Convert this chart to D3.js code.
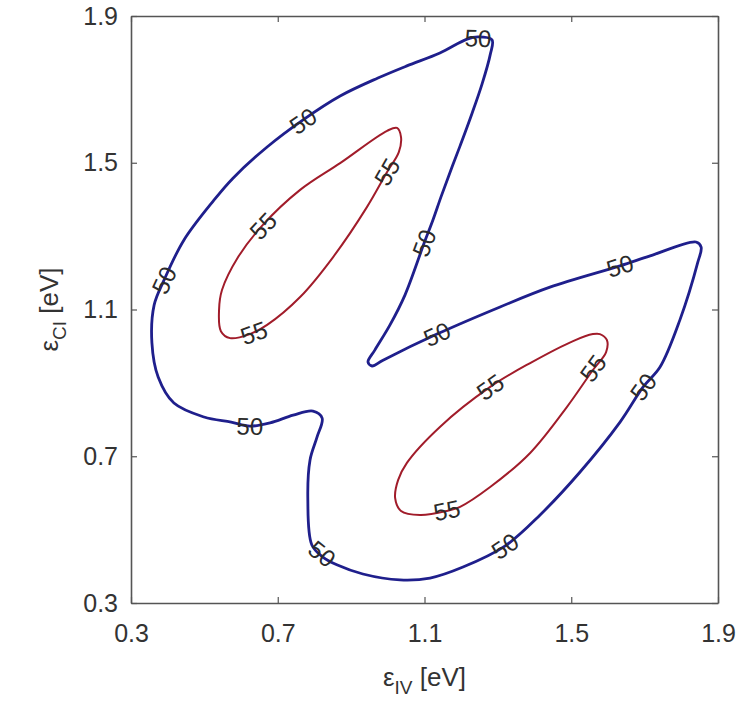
<!DOCTYPE html>
<html>
<head>
<meta charset="utf-8">
<script src="https://cdn.jsdelivr.net/npm/d3@7"></script>
<style>
  body { margin: 0; background: #fff; }
  #chart { width: 743px; height: 703px; }
  text { font-family: "Liberation Sans", Arial, sans-serif; }
</style>
</head>
<body>
<div id="chart"></div>
<script>
// tick values (eV)
var xTicks = [0.3, 0.7, 1.1, 1.5, 1.9]
var yTicks = [0.3, 0.7, 1.1, 1.5, 1.9]

// contour levels
var levelOuter = 50
var levelInner = 55

// iso-line 50, traced as [eps_IV, eps_CI]
var contour50 = [
  [1.284, 1.835], [1.246, 1.843], [1.216, 1.837], [1.142, 1.799], [1.052, 1.764],
  [0.973, 1.731], [0.870, 1.682], [0.769, 1.617], [0.671, 1.543], [0.578, 1.458],
  [0.526, 1.398], [0.444, 1.289], [0.390, 1.180], [0.363, 1.112], [0.357, 1.009],
  [0.374, 0.916], [0.417, 0.845], [0.499, 0.807], [0.573, 0.793], [0.624, 0.782],
  [0.679, 0.791], [0.742, 0.812], [0.796, 0.823], [0.821, 0.804], [0.807, 0.752],
  [0.788, 0.690], [0.782, 0.581], [0.793, 0.458], [0.823, 0.425], [0.861, 0.404],
  [0.932, 0.379], [1.033, 0.363], [1.115, 0.368], [1.205, 0.398], [1.319, 0.455],
  [1.415, 0.540], [1.524, 0.657], [1.633, 0.793], [1.696, 0.889], [1.742, 0.943],
  [1.796, 1.071], [1.845, 1.229], [1.854, 1.270], [1.840, 1.284], [1.715, 1.246],
  [1.633, 1.219], [1.442, 1.161], [1.306, 1.107], [1.134, 1.033], [0.987, 0.962],
  [0.957, 0.946], [0.946, 0.957], [0.965, 0.990], [1.006, 1.058], [1.047, 1.140],
  [1.099, 1.281], [1.123, 1.344], [1.145, 1.407], [1.170, 1.475], [1.197, 1.546],
  [1.229, 1.633], [1.257, 1.715], [1.279, 1.794]
]

// iso-line 55, upper-left island
var contour55a = [
  [1.025, 1.595], [1.036, 1.570], [1.030, 1.529], [0.998, 1.475], [0.943, 1.379],
  [0.851, 1.243], [0.761, 1.134], [0.671, 1.058], [0.624, 1.033], [0.570, 1.022],
  [0.545, 1.041], [0.540, 1.099], [0.548, 1.153], [0.592, 1.243], [0.657, 1.328],
  [0.761, 1.426], [0.870, 1.499], [0.998, 1.587]
]

// iso-line 55, lower-right island
var contour55b = [
  [1.578, 1.033], [1.597, 1.017], [1.595, 0.984], [1.559, 0.935], [1.488, 0.834],
  [1.388, 0.709], [1.279, 0.616], [1.197, 0.562], [1.161, 0.551], [1.088, 0.540],
  [1.036, 0.551], [1.020, 0.586], [1.028, 0.635], [1.052, 0.682], [1.142, 0.780],
  [1.279, 0.889], [1.388, 0.954], [1.505, 1.014], [1.559, 1.033]
]

// where the level labels sit
var labels50 = [
  [1.246, 1.840], [0.769, 1.614], [0.390, 1.180], [0.624, 0.782], [0.821, 0.434],
  [1.319, 0.455], [1.696, 0.889], [1.633, 1.219], [1.134, 1.033], [1.099, 1.281]
]
var labels55a = [[0.998, 1.475], [0.660, 1.328], [0.635, 1.036]]
var labels55b = [[1.279, 0.889], [1.559, 0.940], [1.161, 0.553]]

var margin = { top: 16, right: 25, bottom: 100, left: 131 }
var width = 743 - margin.left - margin.right
var height = 703 - margin.top - margin.bottom

var svg = d3.select("#chart")
  .append("svg")
  .attr("width", 743)
  .attr("height", 703)

var g = svg.append("g")
  .attr("transform", "translate(" + margin.left + "," + margin.top + ")")

var x = d3.scaleLinear().domain([0.3, 1.9]).range([0, width])
var y = d3.scaleLinear().domain([0.3, 1.9]).range([height, 0])

var line = d3.line()
  .x(function(d) { return x(d[0]) })
  .y(function(d) { return y(d[1]) })
  .curve(d3.curveCatmullRomClosed.alpha(0.5))

function drawContour(pts, color, w) {
  g.append("path")
    .datum(pts)
    .attr("d", line)
    .attr("fill", "none")
    .attr("stroke", color)
    .attr("stroke-width", w)
    .attr("stroke-linejoin", "round")
}

// angle of the iso-line near a label, kept upright
function labelAngle(p, pts) {
  var px = x(p[0]), py = y(p[1])
  var best = 0, bestD = Infinity
  pts.forEach(function(q, i) {
    var d = Math.pow(x(q[0]) - px, 2) + Math.pow(y(q[1]) - py, 2)
    if (d < bestD) { bestD = d; best = i }
  })
  var n = pts.length
  var a = pts[(best - 1 + n) % n], b = pts[(best + 1) % n]
  var ang = Math.atan2(y(b[1]) - y(a[1]), x(b[0]) - x(a[0])) * 180 / Math.PI
  if (ang > 90) ang -= 180
  if (ang < -90) ang += 180
  return ang
}

function drawLabels(list, pts, level) {
  g.selectAll(null)
    .data(list)
    .enter().append("text")
    .attr("transform", function(d) {
      return "translate(" + x(d[0]) + "," + y(d[1]) + ") rotate(" + labelAngle(d, pts) + ")"
    })
    .attr("text-anchor", "middle")
    .attr("dy", "0.36em")
    .style("font-size", "24px")
    .style("fill", "#2b2b2b")
    .text(level)
}

drawContour(contour50, "#1f1f8c", 2.8)
drawContour(contour55a, "#a11c2a", 2)
drawContour(contour55b, "#a11c2a", 2)

drawLabels(labels50, contour50, levelOuter)
drawLabels(labels55a, contour55a, levelInner)
drawLabels(labels55b, contour55b, levelInner)

// axes, ticks pointing inward on all four sides
var axisColor = "#555"
var tickColor = "#333"

function styleAxis(sel) {
  sel.select(".domain").attr("stroke", axisColor).attr("stroke-width", 1.6)
  sel.selectAll(".tick line").attr("stroke", axisColor).attr("stroke-width", 1.2)
  sel.selectAll(".tick text")
    .style("font-size", "25px")
    .style("fill", tickColor)
}

g.append("g")
  .attr("transform", "translate(0," + height + ")")
  .call(d3.axisBottom(x).tickValues(xTicks).tickFormat(d3.format(".1f"))
    .tickSize(-6).tickSizeOuter(0).tickPadding(21))
  .call(styleAxis)

g.append("g")
  .call(d3.axisLeft(y).tickValues(yTicks).tickFormat(d3.format(".1f"))
    .tickSize(-6).tickSizeOuter(0).tickPadding(13))
  .call(styleAxis)

g.append("g")
  .call(d3.axisTop(x).tickValues(xTicks).tickFormat("")
    .tickSize(-6).tickSizeOuter(0))
  .call(styleAxis)

g.append("g")
  .attr("transform", "translate(" + width + ",0)")
  .call(d3.axisRight(y).tickValues(yTicks).tickFormat("")
    .tickSize(-6).tickSizeOuter(0))
  .call(styleAxis)

// axis titles
var xTitle = g.append("text")
  .attr("x", width / 2)
  .attr("y", height + 83)
  .attr("text-anchor", "middle")
  .style("font-size", "26px")
  .style("fill", tickColor)
xTitle.append("tspan").text("ε")
xTitle.append("tspan").attr("dy", 8).style("font-size", "19px").text("IV")
xTitle.append("tspan").attr("dy", -8).text(" [eV]")

var yTitle = g.append("text")
  .attr("transform", "translate(" + (-73) + "," + (height / 2) + ") rotate(-90)")
  .attr("text-anchor", "middle")
  .style("font-size", "26px")
  .style("fill", tickColor)
yTitle.append("tspan").text("ε")
yTitle.append("tspan").attr("dy", 8).style("font-size", "19px").text("CI")
yTitle.append("tspan").attr("dy", -8).text(" [eV]")
</script>
</body>
</html>
